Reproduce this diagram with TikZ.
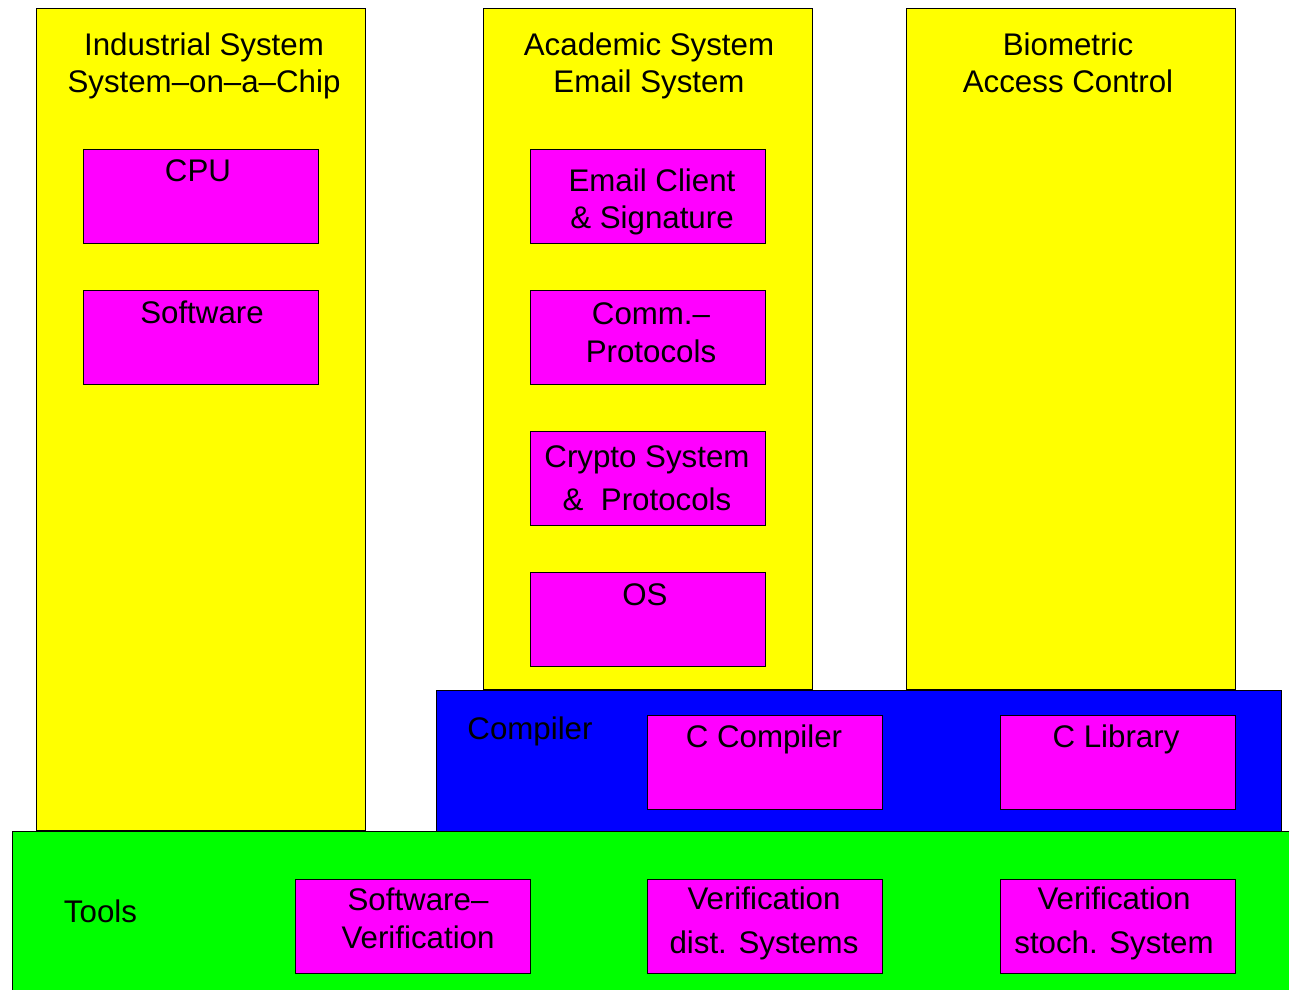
\documentclass[tikz,border=0pt]{standalone}
\usepackage{fontspec}
\setmainfont{Liberation Sans}
\usepackage{tikz}

\definecolor{sysyellow}{RGB}{255,255,0}
\definecolor{unitpink}{RGB}{255,0,255}
\definecolor{compblue}{RGB}{0,0,255}
\definecolor{toolgreen}{RGB}{0,255,0}

\begin{document}
\begin{tikzpicture}[x=0.02cm, y=-0.02cm,
    every node/.style={font=\fontsize{17.8pt}{21.6pt}\selectfont},
    col/.style={draw, fill=sysyellow, line width=0.5pt, minimum width=6.58cm, inner sep=0pt},
    unit/.style={draw, fill=unitpink, line width=0.5pt, minimum width=4.7cm, minimum height=1.88cm, inner sep=0pt},
    lbl/.style={anchor=base, align=center, inner sep=0pt}]
  \useasboundingbox (0,0) rectangle (1289,990);

  % System columns
  \node[col, minimum height=16.46cm] (ind) at (200.5,419.5) {};
  \node[col, minimum height=13.64cm] (acad) at (647.5,349) {};
  \node[col, minimum height=13.64cm] (bio) at (1070.5,349) {};

  \node[lbl] (lind) at (204,93) {Industrial System\\System--on--a--Chip};
  \node[lbl] (lacad) at (649,93) {Academic System\\Email System};
  \node[lbl] (lbio) at (1068,93) {Biometric\\Access Control};

  % Components of the systems
  \node[unit] (cpu) at (200.5,196) {};
  \node[unit] (sw) at (200.5,337) {};
  \node[unit] (mail) at (647.5,196) {};
  \node[unit] (comm) at (647.5,337) {};
  \node[unit] (crypto) at (647.5,478) {};
  \node[unit] (os) at (647.5,619) {};

  \node[lbl] (lcpu) at (198,182) {CPU};
  \node[lbl] (lsw) at (202,323) {Software};
  \node[lbl] (lmail) at (652,229) {Email Client\\ \& Signature};
  \node[lbl] (lcomm) at (651,362) {Comm.--\\Protocols};
  \node[lbl, font=\fontsize{17.8pt}{24pt}\selectfont] (lcrypto) at (647,510) {Crypto System\\\&\ \ Protocols};
  \node[lbl] (los) at (645,605) {OS};

  % Compiler layer
  \node[draw, fill=compblue, line width=0.5pt, minimum width=16.92cm, minimum height=2.82cm, inner sep=0pt] (comp) at (859,760.5) {};
  \node[lbl] (lcomp) at (530,739) {Compiler};
  \node[unit] (cc) at (765,762) {};
  \node[unit] (clib) at (1117.5,762) {};
  \node[lbl] (lcc) at (764,747) {C Compiler};
  \node[lbl] (lclib) at (1116,747) {C Library};

  % Tools layer
  \node[draw, fill=toolgreen, line width=0.5pt, minimum width=25.66cm, minimum height=3.28cm, inner sep=0pt] (tools) at (653.5,913) {};
  \node[lbl] (ltools) at (100.5,922) {Tools};
  \node[unit] (swv) at (412.5,926.5) {};
  \node[unit] (dist) at (765,926.5) {};
  \node[unit] (stoch) at (1117.5,926.5) {};
  \node[lbl] (lswv) at (418,948) {Software--\\Verification};
  \node[lbl, font=\fontsize{17.8pt}{24.5pt}\selectfont] (ldist) at (764,953) {Verification\\dist. Systems};
  \node[lbl, font=\fontsize{17.8pt}{24.5pt}\selectfont] (lstoch) at (1114,953) {Verification\\stoch. System};
\end{tikzpicture}
\end{document}
